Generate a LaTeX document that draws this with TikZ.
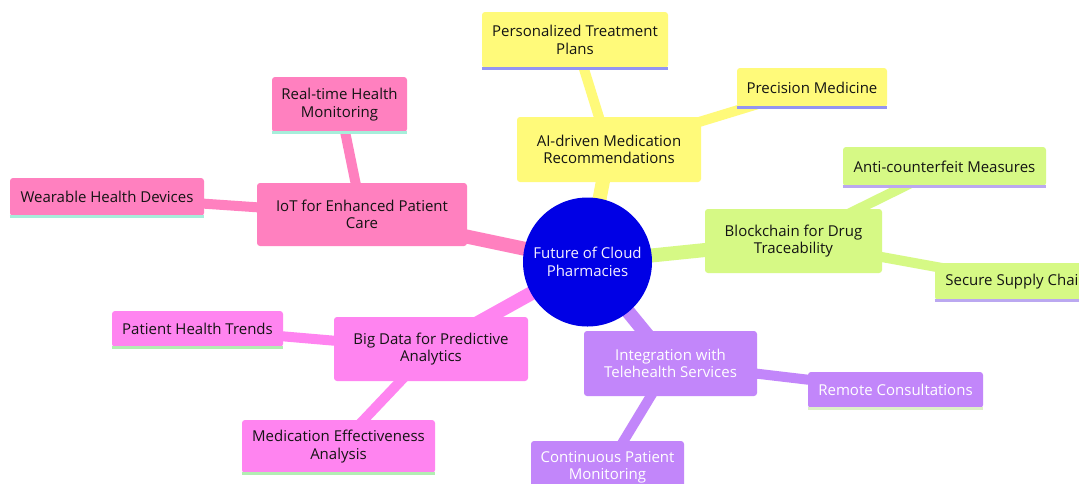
\documentclass[tikz,border=0pt]{standalone}
\usepackage{fontspec}
\setmainfont{Open Sans}
\usetikzlibrary{backgrounds}

% section colours of the mind map
\definecolor{rootblue}{HTML}{0000E5}
\definecolor{secY}{HTML}{FFFA7A}
\definecolor{secG}{HTML}{D6F985}
\definecolor{secP}{HTML}{FF80BF}
\definecolor{secM}{HTML}{FF84F0}
\definecolor{secV}{HTML}{C286FA}
% underline colours of the leaf topics
\definecolor{lineY}{HTML}{9494F2}
\definecolor{lineG}{HTML}{BBA8F0}
\definecolor{lineP}{HTML}{A6EEDA}
\definecolor{lineM}{HTML}{B2EEB2}
\definecolor{lineV}{HTML}{DDF0C8}
\definecolor{ink}{HTML}{141414}
\definecolor{paper}{HTML}{F4F0FF}

\begin{document}
\begin{tikzpicture}[x=1pt, y=-1pt,
  topic/.style={rectangle, rounded corners=3pt, inner sep=0pt, align=center,
                font=\fontsize{15}{17.5}\selectfont, text=ink},
  size/.style 2 args={minimum width=#1pt, minimum height=#2pt},
  centre/.style={circle, fill=rootblue, minimum size=129pt, inner sep=0pt,
                 align=center, font=\fontsize{15}{17.5}\selectfont, text=paper},
  trunk/.style={line width=14pt},
  twig/.style={line width=10pt},
  underline/.style={line width=3pt},
]
\useasboundingbox (0,0) rectangle (1079,483);
\clip (0,0) rectangle (1079,483);

% central topic
\node[centre] (root) at (587.5,262) {Future of Cloud\\Pharmacies};

% AI branch
\node[topic, fill=secY, size={184}{65}] (ai)  at (609,149.5) {AI-driven Medication\\Recommendations};
\node[topic, fill=secY, size={186}{56}] (ptp) at (575,40)    {Personalized Treatment\\Plans};
\node[topic, fill=secY, size={150}{39}] (pm)  at (812,87.5)  {Precision Medicine};

% blockchain branch
\node[topic, fill=secG, size={177}{64}] (bc)  at (793.5,241)   {Blockchain for Drug\\Traceability};
\node[topic, fill=secG, size={203}{39}] (ac)  at (944.5,166.5) {Anti-counterfeit Measures};
\node[topic, fill=secG, size={163}{37}] (ssc) at (1016.5,281.5){Secure Supply Chain};

% IoT branch
\node[topic, fill=secP, size={210}{63}] (iot)  at (362,214.5) {IoT for Enhanced Patient\\Care};
\node[topic, fill=secP, size={135}{55}] (rthm) at (339.5,104.5) {Real-time Health\\Monitoring};
\node[topic, fill=secP, size={194}{38}] (whd)  at (107,197) {Wearable Health Devices};

% big data branch
\node[topic, fill=secM, size={194}{64}] (bd)  at (431,349) {Big Data for Predictive\\Analytics};
\node[topic, fill=secM, size={171}{36}] (pht) at (197.5,329) {Patient Health Trends};
\node[topic, fill=secM, size={193}{53}] (mea) at (338.5,446.5) {Medication Effectiveness\\Analysis};

% telehealth branch
\node[topic, fill=secV, text=white, size={173}{65}] (tele) at (670.5,363.5) {Integration with\\Telehealth Services};
\node[topic, fill=secV, text=white, size={175}{36}] (rc)   at (895.5,390) {Remote Consultations};
\node[topic, fill=secV, text=white, size={153}{53}] (cpm)  at (607.5,467.5) {Continuous Patient\\Monitoring};

% white sheet and connectors, behind the topics
\begin{scope}[on background layer]
  \fill[white] (0,0) rectangle (1079,483);
  \clip (0,0) rectangle (1079,483);
  \draw[trunk, secY] (root.center) -- (ai.center);
  \draw[trunk, secG] (root.center) -- (bc.center);
  \draw[trunk, secP] (root.center) -- (iot.center);
  \draw[trunk, secM] (root.center) -- (bd.center);
  \draw[trunk, secV] (root.center) -- (tele.center);
  \draw[twig, secY] (ai.center) -- (ptp.center);
  \draw[twig, secY] (ai.center) -- (pm.center);
  \draw[twig, secG] (bc.center) -- (ac.center);
  \draw[twig, secG] (bc.center) -- (ssc.center);
  \draw[twig, secP] (iot.center) -- (rthm.center);
  \draw[twig, secP] (iot.center) -- (whd.center);
  \draw[twig, secM] (bd.center) -- (pht.center);
  \draw[twig, secM] (bd.center) -- (mea.center);
  \draw[twig, secV] (tele.center) -- (rc.center);
  \draw[twig, secV] (tele.center) -- (cpm.center);
\end{scope}

% underlines of the leaf topics
\foreach \n/\c in {ptp/lineY, pm/lineY, ac/lineG, ssc/lineG, rthm/lineP, whd/lineP,
                   pht/lineM, mea/lineM, rc/lineV, cpm/lineV}
  \draw[underline, \c] (\n.south west) -- (\n.south east);
\end{tikzpicture}
\end{document}
